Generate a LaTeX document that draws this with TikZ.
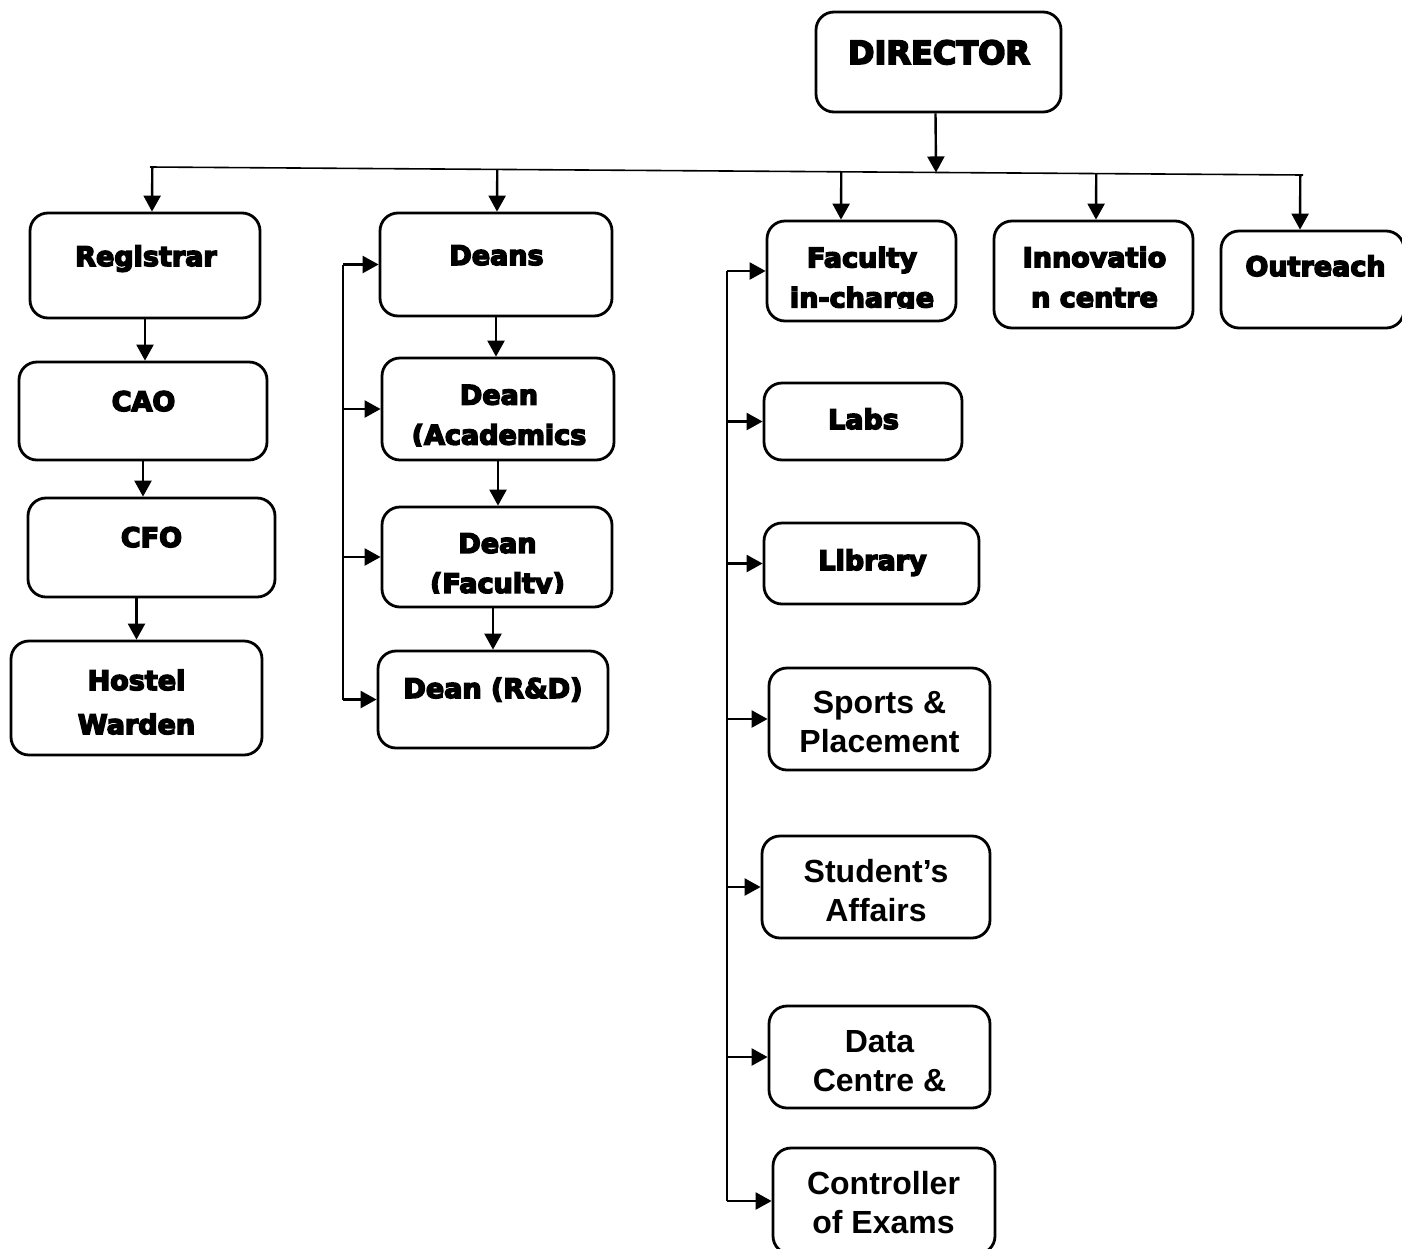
\documentclass[tikz,border=0pt]{standalone}
\usepackage{fontspec}
\setmainfont{Liberation Sans}
\newfontfamily\heavyfont[FakeBold=5.5]{DejaVu Sans Bold}
\usetikzlibrary{arrows.meta,fit,calc}
\tikzset{
box/.style={draw,line width=1.4pt,rounded corners=9pt,inner sep=0pt},
heavy/.style={font=\heavyfont\fontsize{13.5}{20}\selectfont,align=center,inner sep=0pt},
plain/.style={font=\bfseries\fontsize{16}{19.5}\selectfont,align=center,inner sep=0pt},
arr/.style={-{Triangle[length=8pt,width=8.5pt]},line width=1.2pt},
bar/.style={line width=0.8pt}
}
\begin{document}
\begin{tikzpicture}[x=0.5pt,y=-0.5pt]
\useasboundingbox (0,0) rectangle (1402,1248);
\fill[white] (0,0) rectangle (1402,1248);

\node[box,fit={(816,12) (1061,112)}] (dir) {};
\node[box,fit={(30,213) (260,318)}] (reg) {};
\node[box,fit={(19,362) (267,460)}] (cao) {};
\node[box,fit={(28,498) (275,597)}] (cfo) {};
\node[box,fit={(11,641) (262,755)}] (hos) {};
\node[box,fit={(380,213) (612,316)}] (deans) {};
\node[box,fit={(382,358) (614,460)}] (acad) {};
\node[box,fit={(382,507) (612,607)}] (dfac) {};
\node[box,fit={(378,651) (608,748)}] (rd) {};
\node[box,fit={(767,221) (956,321)}] (fac) {};
\node[box,fit={(994,221) (1193,328)}] (inno) {};
\node[box,fit={(1221,231) (1404,328)}] (out) {};
\node[box,fit={(764,383) (962,460)}] (labs) {};
\node[box,fit={(764,523) (979,604)}] (lib) {};
\node[box,fit={(769,668) (990,770)}] (spo) {};
\node[box,fit={(762,836) (990,938)}] (stu) {};
\node[box,fit={(769,1006) (990,1108)}] (data) {};
\node[box,fit={(773,1148) (995,1254)}] (coe) {};

\node[heavy,font=\heavyfont\fontsize{16}{20}\selectfont,anchor=base] (dirt) at (939,64) {DIRECTOR};
\node[heavy,anchor=base] (regt) at (146,266) {Registrar};
\node[heavy,anchor=base] (caot) at (143.5,411) {CAO};
\node[heavy,anchor=base] (cfot) at (151.5,547) {CFO};
\node[heavy,font=\heavyfont\fontsize{13.5}{22}\selectfont] (host) at (136.5,702) {Hostel\\Warden};
\node[heavy,anchor=base] (deanst) at (496.5,265) {Deans};
\begin{scope}
\clip (390,370) rectangle (610,446);
\node[heavy] (acadt) at (499,416.5) {Dean\\(Academics};
\end{scope}
\begin{scope}
\clip (390,520) rectangle (610,593);
\node[heavy] (dfact) at (497.5,566) {Dean\\(Faculty)};
\end{scope}
\node[heavy,anchor=base] (rdt) at (493,698) {Dean (R\&D)};
\begin{scope}
\clip (770,230) rectangle (950,308);
\node[heavy] (fact) at (862,280) {Faculty\\in-charge};
\end{scope}
\node[heavy] (innot) at (1094.5,277) {Innovatio\\n centre};
\node[heavy,anchor=base] (outt) at (1315.5,276) {Outreach};
\node[heavy,anchor=base] (labst) at (863.5,429) {Labs};
\node[heavy,anchor=base] (libt) at (872.5,570) {Library};
\node[plain] (spot) at (879.5,722) {Sports \&\\Placement};
\node[plain] (stut) at (876,891) {Student’s\\Affairs};
\node[plain] (datat) at (879.5,1061) {Data\\Centre \&};
\node[plain] (coet) at (883.5,1203) {Controller\\of Exams};

\coordinate (busl) at (150,167);
\coordinate (busr) at (1303,175);
\draw[bar] (busl) -- (busr);
\draw[arr] ([xshift=-1.5pt]dir.south) -- ($(busl)!([xshift=-1pt]dir.south)!(busr)$);
\foreach \n/\s in {reg/3.5,deans/0.5,fac/-10.25,inno/1.25,out/-6.25}
\draw[arr] ($(busl)!([xshift=\s pt]\n.north)!(busr)$) -- ([xshift=\s pt]\n.north);

\foreach \a/\b in {reg/cao,cao/cfo,deans/acad,acad/dfac}
\draw[arr] (\a.south) -- (\a.south |- \b.north);
\foreach \a/\b in {cfo/hos,dfac/rd}
\draw[arr] (\b.north |- \a.south) -- (\b.north);

\coordinate (lb) at (343,0);
\draw[bar] (lb |- deans.west) -- (lb |- rd.west);
\foreach \n in {deans,acad,dfac,rd}
\draw[arr] (lb |- \n.west) -- (\n.west);

\coordinate (rb) at (727,0);
\draw[bar] (rb |- fac.west) -- (rb |- coe.west);
\foreach \n in {fac,labs,lib,spo,stu,data,coe}
\draw[arr] (rb |- \n.west) -- (\n.west);
\end{tikzpicture}
\end{document}
